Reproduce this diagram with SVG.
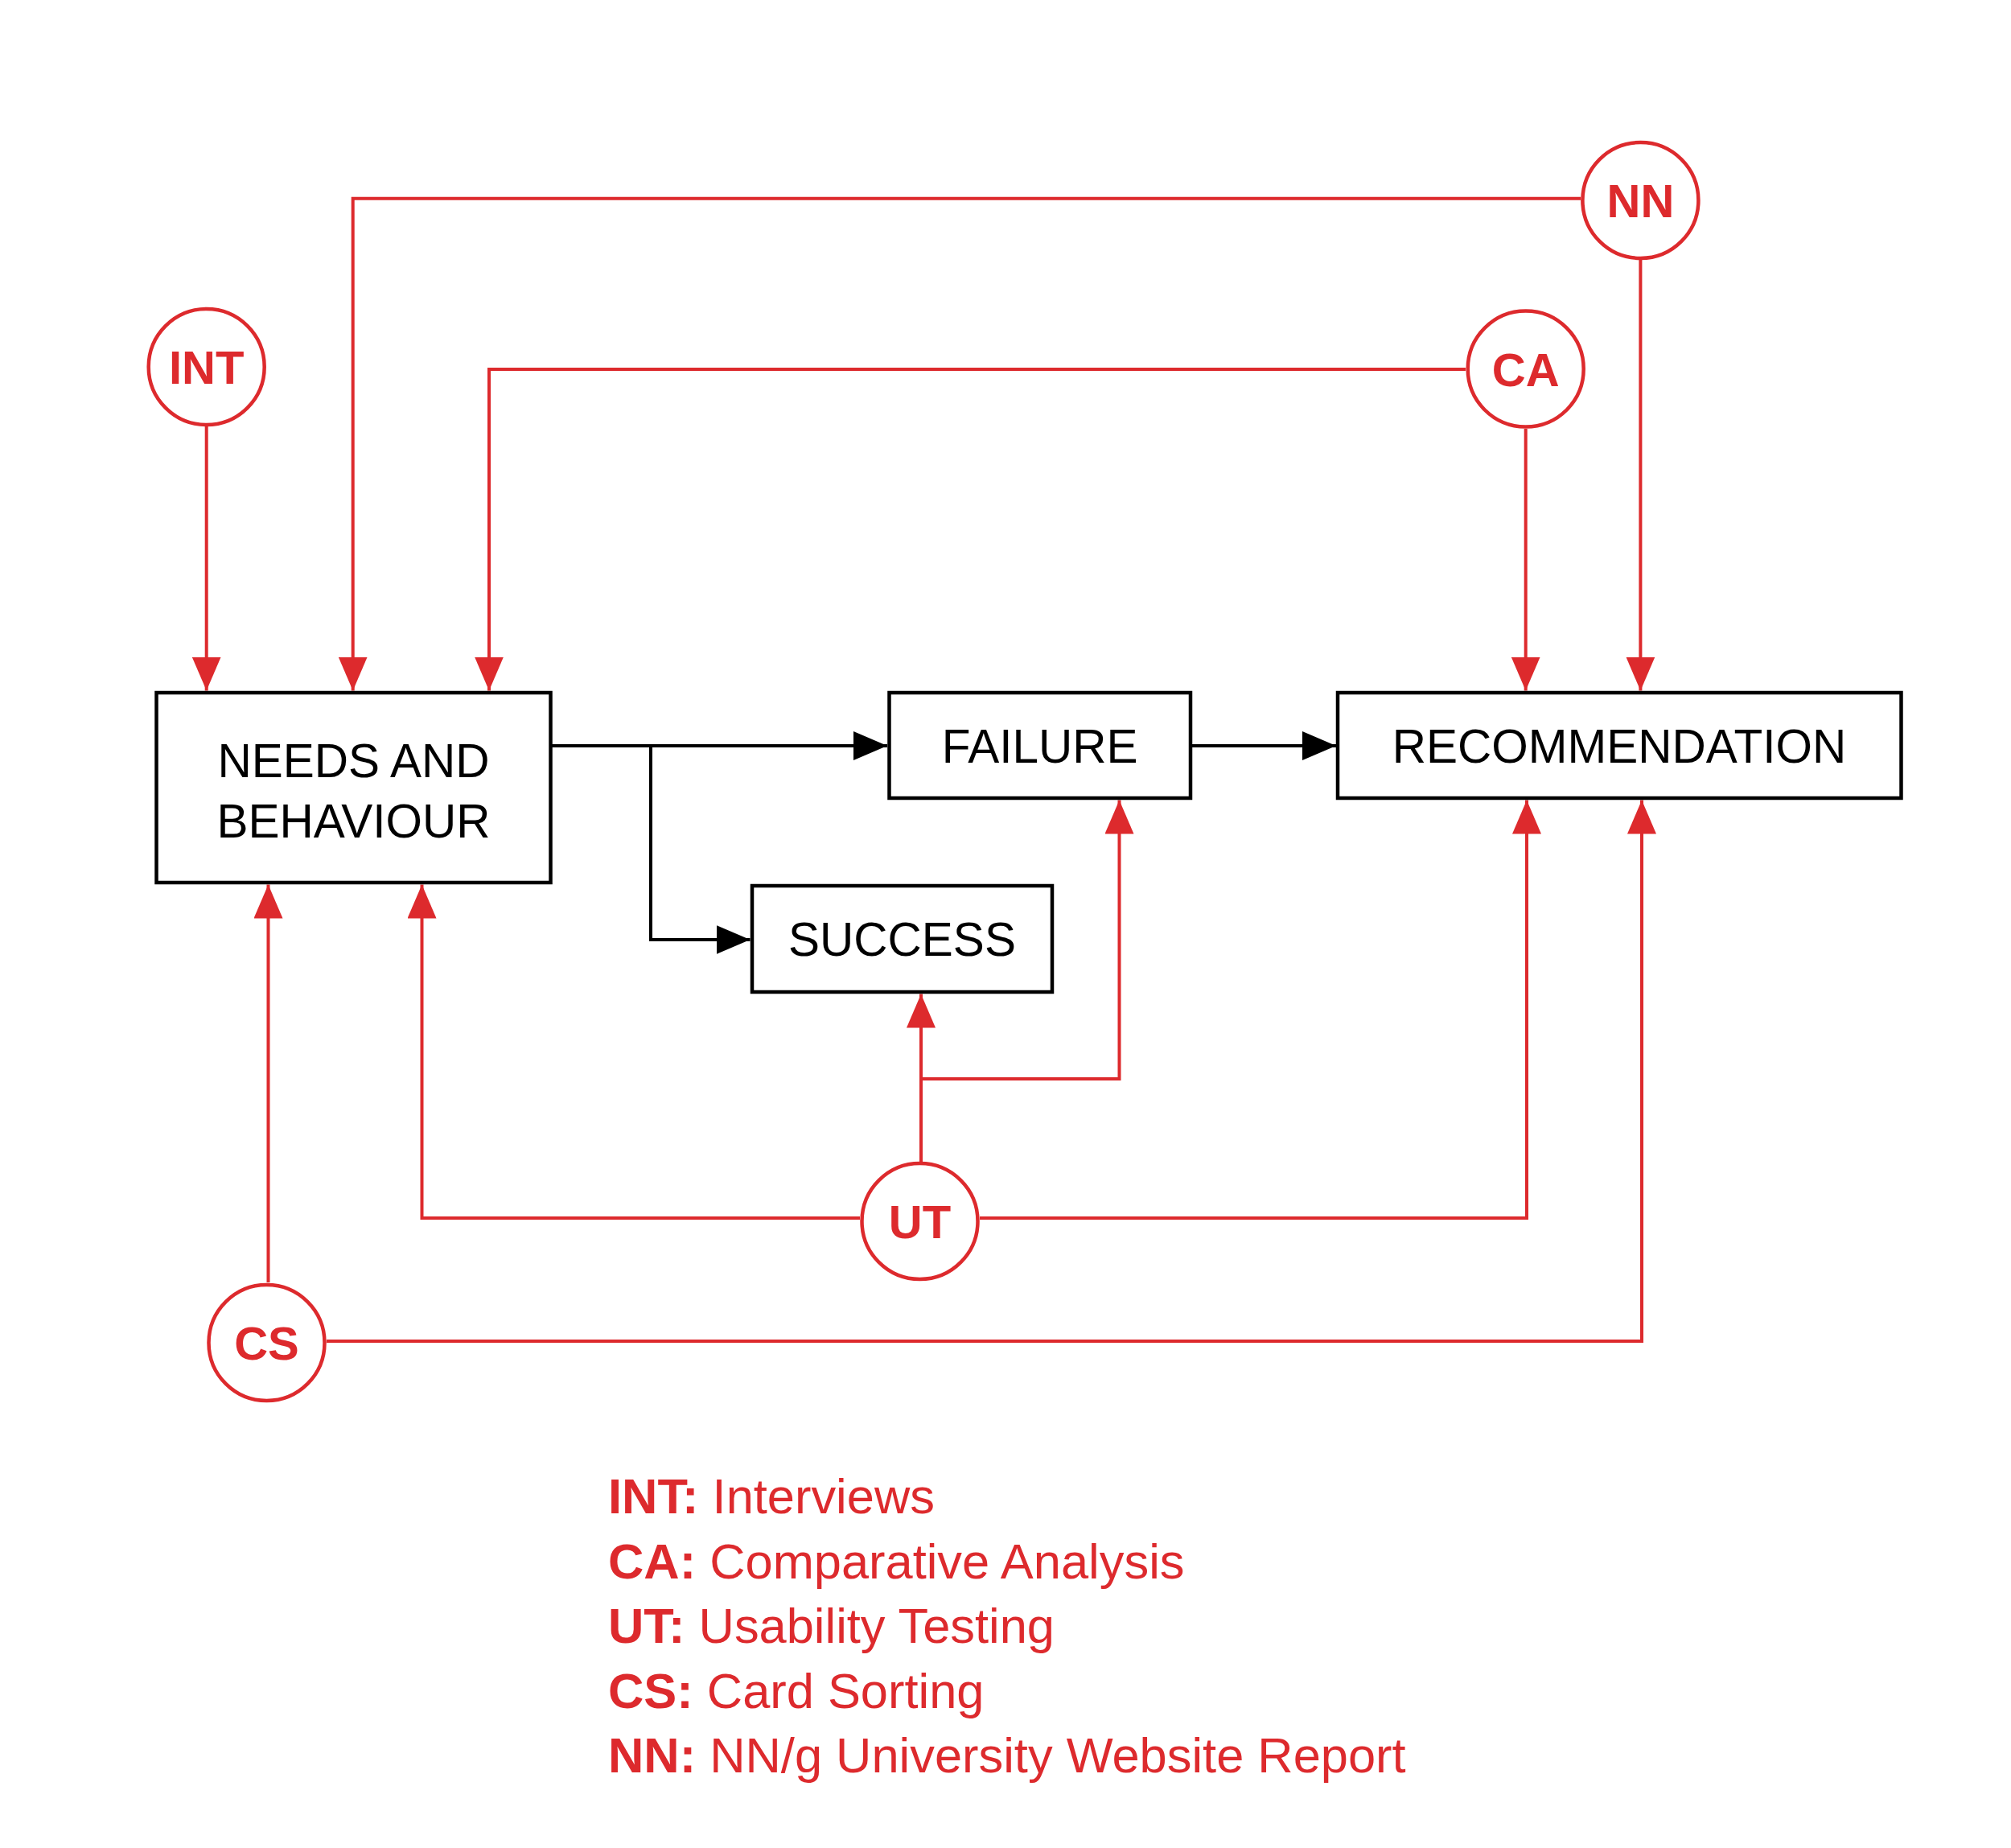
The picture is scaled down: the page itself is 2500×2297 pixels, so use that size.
<svg xmlns="http://www.w3.org/2000/svg" width="2500" height="2297" viewBox="0 0 2500 2297">
<style>
  .bg{fill:#ffffff}
  .box{fill:#ffffff;stroke:#000000;stroke-width:4.5}
  .lbl{font-family:"Liberation Sans",Arial,sans-serif;font-size:58.5px;fill:#000000;text-anchor:middle}
  .circ{fill:#ffffff;stroke:#dd2a2d;stroke-width:4.5}
  .ctxt{font-family:"Liberation Sans",Arial,sans-serif;font-size:58px;font-weight:bold;fill:#dd2a2d;text-anchor:middle}
  .red{fill:none;stroke:#dd2a2d;stroke-width:4;marker-end:url(#ar)}
  .blk{fill:none;stroke:#000000;stroke-width:4;marker-end:url(#ab)}
  .leg{font-family:"Liberation Sans",Arial,sans-serif;font-size:61.4px;fill:#dd2a2d}
  .legb{font-weight:bold}
</style>
<defs>
  <marker id="ar" viewBox="0 0 42 36" refX="42" refY="18" markerWidth="42" markerHeight="36" markerUnits="userSpaceOnUse" orient="auto">
    <path d="M0,0 L42,18 L0,36 Z" fill="#dd2a2d"/>
  </marker>
  <marker id="ab" viewBox="0 0 42 36" refX="42" refY="18" markerWidth="42" markerHeight="36" markerUnits="userSpaceOnUse" orient="auto">
    <path d="M0,0 L42,18 L0,36 Z" fill="#000000"/>
  </marker>
</defs>
<rect class="bg" x="0" y="0" width="2500" height="2297"/>

<g id="connectors">
  <path class="red" d="M256.7,530 V858.5"/>
  <path class="red" d="M1965,246.7 H438.7 V858.5"/>
  <path class="red" d="M2039.4,323 V858.5"/>
  <path class="red" d="M1822,459 H608 V858.5"/>
  <path class="red" d="M1896.7,533 V858.5"/>
  <path class="blk" d="M684,927 H1103"/>
  <path class="blk" d="M809,927 V1168 H932.5"/>
  <path class="blk" d="M1480,927 H1661"/>
  <path class="red" d="M1145,1444 V1235.5"/>
  <path class="red" d="M1145,1341 H1391.5 V994.5"/>
  <path class="red" d="M1069,1514 H524.5 V1099.5"/>
  <path class="red" d="M1218,1514 H1898 V994.5"/>
  <path class="red" d="M333.5,1594 V1099.5"/>
  <path class="red" d="M406,1667 H2041 V994.5"/>
</g>

<g id="needs">
  <rect class="box" x="194.5" y="861" width="490" height="236"/>
  <text class="lbl" x="439.5" y="966">NEEDS AND</text>
  <text class="lbl" x="439.5" y="1040.5">BEHAVIOUR</text>
</g>
<g id="failure">
  <rect class="box" x="1105.5" y="861" width="374.5" height="131"/>
  <text class="lbl" x="1292.7" y="947.5">FAILURE</text>
</g>
<g id="success">
  <rect class="box" x="935" y="1101" width="373" height="132"/>
  <text class="lbl" x="1121.5" y="1187.5">SUCCESS</text>
</g>
<g id="recommendation">
  <rect class="box" x="1663" y="861" width="700.5" height="131"/>
  <text class="lbl" x="2013" y="947.5">RECOMMENDATION</text>
</g>

<g id="int">
  <circle class="circ" cx="256.7" cy="456" r="72"/>
  <text class="ctxt" x="256.7" y="477">INT</text>
</g>
<g id="nn">
  <circle class="circ" cx="2039.4" cy="249" r="72"/>
  <text class="ctxt" x="2039.4" y="270">NN</text>
</g>
<g id="ca">
  <circle class="circ" cx="1896.7" cy="458.6" r="72"/>
  <text class="ctxt" x="1896.7" y="479.6">CA</text>
</g>
<g id="ut">
  <circle class="circ" cx="1143.5" cy="1518" r="72"/>
  <text class="ctxt" x="1143.5" y="1539">UT</text>
</g>
<g id="cs">
  <circle class="circ" cx="331.5" cy="1669" r="72"/>
  <text class="ctxt" x="331.5" y="1690">CS</text>
</g>

<g id="legend">
  <text class="leg" x="756" y="1881"><tspan class="legb">INT:</tspan> Interviews</text>
  <text class="leg" x="756" y="1962"><tspan class="legb">CA:</tspan> Comparative Analysis</text>
  <text class="leg" x="756" y="2042"><tspan class="legb">UT:</tspan> Usability Testing</text>
  <text class="leg" x="756" y="2123"><tspan class="legb">CS:</tspan> Card Sorting</text>
  <text class="leg" x="756" y="2203"><tspan class="legb">NN:</tspan> NN/g University Website Report</text>
</g>
</svg>
